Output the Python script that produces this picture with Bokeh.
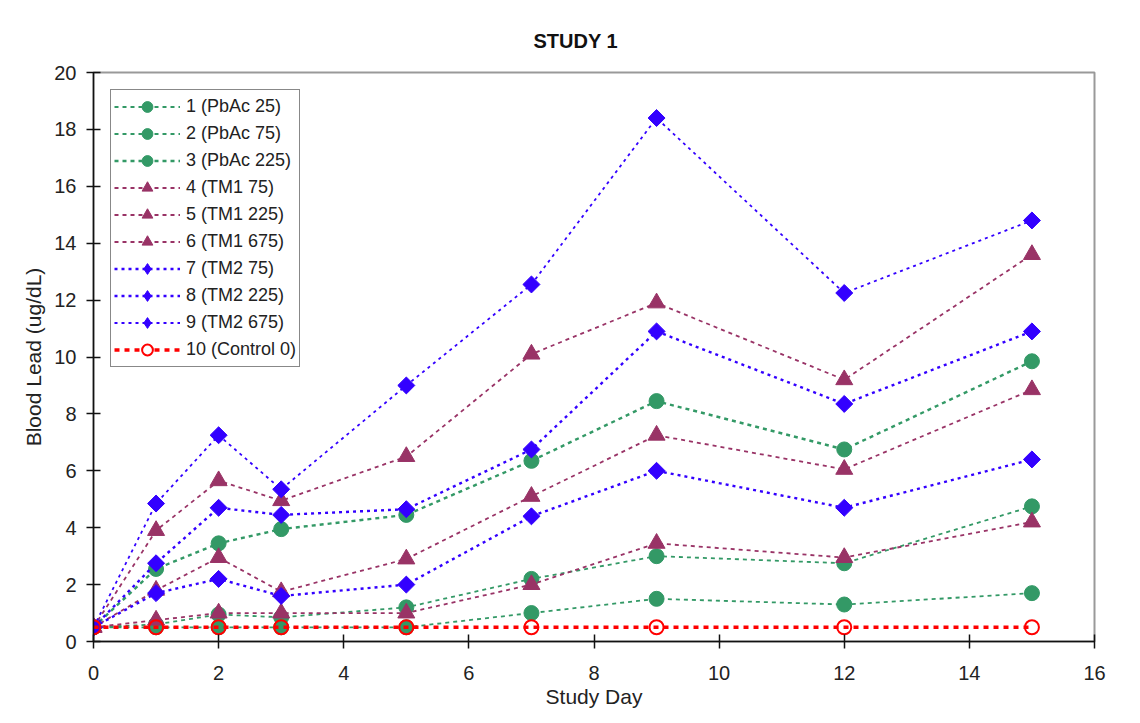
import math
from bokeh.plotting import figure
from bokeh.embed import file_html
from bokeh.resources import INLINE
from bokeh.models import Range1d, FixedTicker, Legend
from bokeh.core.properties import value

days = [0, 1, 2, 3, 5, 7, 9, 12, 15]

labels = ["1 (PbAc 25)", "2 (PbAc 75)", "3 (PbAc 225)",
          "4 (TM1 75)", "5 (TM1 225)", "6 (TM1 675)",
          "7 (TM2 75)", "8 (TM2 225)", "9 (TM2 675)",
          "10 (Control 0)"]

s1 = [0.5, 0.5, 0.5, 0.5, 0.5, 1.0, 1.5, 1.3, 1.7]
s2 = [0.5, 0.6, 0.95, 0.85, 1.2, 2.2, 3.0, 2.75, 4.75]
s3 = [0.5, 2.55, 3.45, 3.95, 4.45, 6.35, 8.45, 6.75, 9.85]
s4 = [0.5, 0.75, 1.0, 1.0, 1.0, 2.0, 3.45, 2.95, 4.2]
s5 = [0.5, 1.8, 2.95, 1.75, 2.9, 5.1, 7.25, 6.05, 8.85]
s6 = [0.5, 3.9, 5.65, 4.95, 6.5, 10.1, 11.9, 9.2, 13.6]
s7 = [0.5, 1.7, 2.2, 1.6, 2.0, 4.4, 6.0, 4.7, 6.4]
s8 = [0.5, 2.75, 4.7, 4.45, 4.65, 6.75, 10.9, 8.35, 10.9]
s9 = [0.5, 4.85, 7.25, 5.35, 9.0, 12.55, 18.4, 12.25, 14.8]
s10 = [0.5, 0.5, 0.5, 0.5, 0.5, 0.5, 0.5, 0.5, 0.5]

series = [s1, s2, s3, s4, s5, s6, s7, s8, s9, s10]

x_ticks = [0, 2, 4, 6, 8, 10, 12, 14, 16]
y_ticks = [0, 2, 4, 6, 8, 10, 12, 14, 16, 18, 20]

GREEN = "#339966"
PURPLE = "#993366"
BLUE = "#3300FF"
RED = "#FF0000"

# color, marker, legend marker, size, angle, line width, dash
styles = [
    (GREEN, "circle", "circle", 15, 0.0, 1.8, "4 4"),
    (GREEN, "circle", "circle", 15, 0.0, 1.8, "4 4"),
    (GREEN, "circle", "circle", 15, 0.0, 2.4, "4 4"),
    (PURPLE, "triangle", "triangle", 17, 0.0, 1.8, "4 4"),
    (PURPLE, "triangle", "triangle", 17, 0.0, 1.8, "4 4"),
    (PURPLE, "triangle", "triangle", 17, 0.0, 1.8, "4 4"),
    (BLUE, "square", "diamond", 12, math.pi / 4, 2.4, "3 4"),
    (BLUE, "square", "diamond", 12, math.pi / 4, 2.4, "3 4"),
    (BLUE, "square", "diamond", 12, math.pi / 4, 1.8, "3 4"),
]

NAN = [float("nan")]

FONT = "Liberation Sans"

p = figure(width=1132, height=715, output_backend="svg", toolbar_location=None,
           x_range=Range1d(0, 16), y_range=Range1d(0, 20),
           min_border_left=93, min_border_right=38, min_border_top=72,
           min_border_bottom=74)

p.title.text = "STUDY 1"
p.title.align = "left"
p.title.text_font = FONT
p.title.text_font_size = "20px"
p.title.text_font_style = "bold"
p.title.text_color = "#111111"
p.title.offset = 440
p.title.standoff = 42

p.xgrid.visible = False
p.ygrid.visible = False
p.outline_line_color = "#999999"
p.outline_line_width = 2

for ax in (p.xaxis[0], p.yaxis[0]):
    ax.axis_line_color = "#111111"
    ax.axis_line_width = 1.5
    ax.major_tick_line_color = "#111111"
    ax.major_tick_line_width = 1.5
    ax.major_tick_in = 7
    ax.major_tick_out = 7
    ax.minor_tick_line_color = None
    ax.major_label_text_font = FONT
    ax.major_label_text_font_size = "20px"
    ax.major_label_text_color = "#222222"
    ax.axis_label_text_font = FONT
    ax.axis_label_text_font_size = "21px"
    ax.axis_label_text_font_style = "normal"
    ax.axis_label_text_color = "#222222"

p.xaxis.ticker = FixedTicker(ticks=x_ticks)
p.yaxis.ticker = FixedTicker(ticks=y_ticks)
p.xaxis.axis_label = "Study Day"
p.yaxis.axis_label = "Blood Lead (ug/dL)"
p.xaxis.major_label_standoff = 17
p.yaxis.major_label_standoff = 10
p.xaxis.axis_label_standoff = 2
p.yaxis.axis_label_standoff = 6

items = []
for ys, lab, (col, mk, lmk, sz, ang, lw, dash) in zip(series[:9], labels[:9], styles):
    r1 = p.line(days, ys, line_color=col, line_width=lw, line_dash=dash)
    r2 = p.scatter(days, ys, marker=mk, size=sz, angle=ang,
                   fill_color=col, line_color=col)
    if lmk != mk:
        # legend-only key marker (not drawn on the plot: NaN position)
        r3 = p.scatter(x=NAN, y=NAN, marker=lmk, size=sz,
                       fill_color=col, line_color=col)
        items.append((lab, [r1, r3]))
    else:
        items.append((lab, [r1, r2]))

r1 = p.line(days, s10, line_color=RED, line_width=3.5, line_dash="5 5")
r2 = p.scatter(days, s10, marker="circle", size=14, fill_color="white",
               fill_alpha=0.0, line_color=RED, line_width=2)
r3 = p.scatter(x=NAN, y=NAN, marker="circle", size=14, fill_color="white",
               line_color=RED, line_width=2)
items.append((labels[9], [r1, r3]))

legend = Legend(items=items, location="top_left")
legend.margin = 17
legend.padding = 3
legend.spacing = 0
legend.glyph_width = 66
legend.glyph_height = 27
legend.label_standoff = 6
legend.label_text_font = FONT
legend.label_text_font_size = "18px"
legend.label_text_color = "#222222"
legend.border_line_color = "#111111"
legend.border_line_width = 1.5
legend.background_fill_color = "white"
legend.background_fill_alpha = 1.0
p.add_layout(legend)

open("out.html", "w").write(file_html(p, INLINE))
